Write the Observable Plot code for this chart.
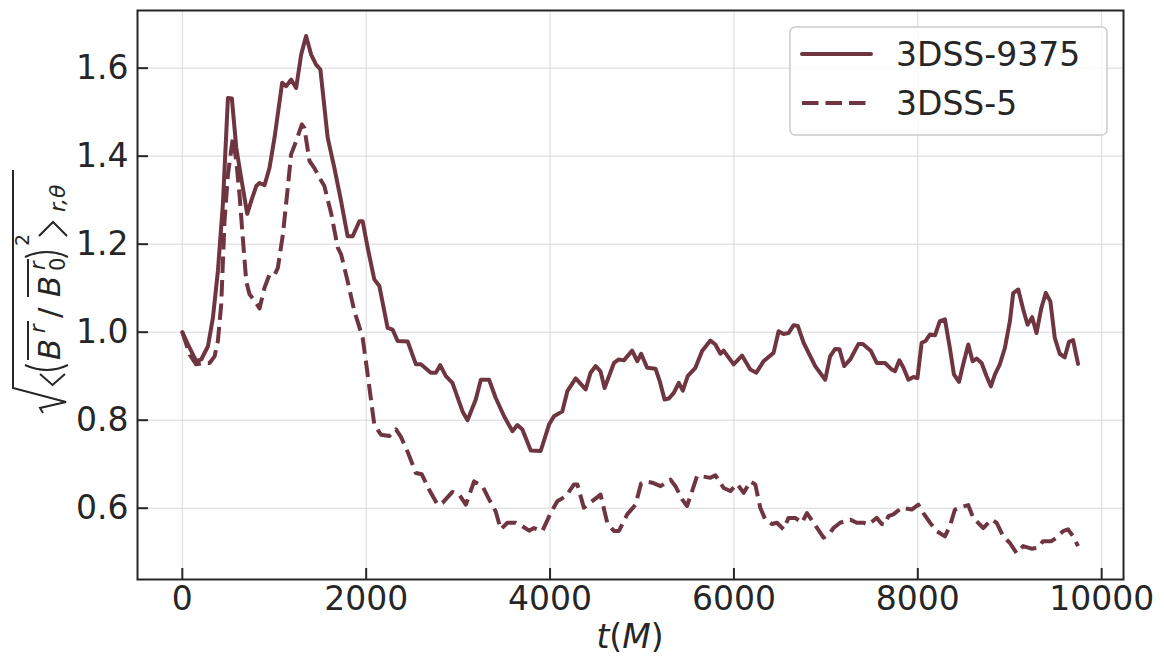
<!DOCTYPE html>
<html><head><meta charset="utf-8">
<script src="https://cdn.jsdelivr.net/npm/d3@7"></script>
<script src="https://cdn.jsdelivr.net/npm/@observablehq/plot@0.6"></script>
<style>body{margin:0;background:#fff;}</style>
</head><body><div id="chart"></div>
<script>
const seriesNames = ["3DSS-9375", "3DSS-5"];
const solidT = [0,62,151,206,279,333,387,441,496,539,587,640,706,749,804,840,894,948,1003,1086,1129,1183,1238,1293,1346,1401,1455,1502,1581,1654,1727,1798,1853,1926,1962,2016,2088,2143,2233,2287,2342,2451,2541,2595,2703,2758,2805,2867,2938,3048,3102,3192,3247,3337,3408,3500,3591,3645,3699,3790,3898,3989,4043,4133,4188,4279,4387,4441,4496,4549,4593,4695,4748,4803,4893,4948,4991,5056,5147,5193,5245,5291,5346,5400,5444,5497,5581,5654,5744,5798,5853,5888,5997,6088,6178,6244,6322,6431,6486,6540,6594,6649,6696,6758,6884,6993,7046,7101,7148,7199,7265,7354,7402,7491,7553,7644,7717,7752,7799,7843,7898,7952,7996,8042,8085,8133,8187,8240,8295,8349,8393,8448,8494,8549,8596,8640,8694,8748,8795,8839,8892,8947,9002,9038,9093,9146,9194,9244,9291,9344,9392,9442,9490,9544,9598,9645,9689,9743];
const solidV = [1.0,0.972,0.934,0.938,0.968,1.033,1.139,1.29,1.532,1.531,1.419,1.351,1.269,1.298,1.332,1.339,1.334,1.373,1.442,1.567,1.559,1.574,1.555,1.631,1.673,1.631,1.608,1.597,1.442,1.373,1.298,1.218,1.218,1.252,1.252,1.192,1.12,1.105,1.01,1.006,0.98,0.979,0.927,0.927,0.908,0.908,0.925,0.9,0.885,0.82,0.80,0.847,0.892,0.892,0.851,0.809,0.775,0.789,0.779,0.731,0.730,0.790,0.809,0.82,0.866,0.895,0.870,0.908,0.923,0.911,0.873,0.930,0.938,0.936,0.958,0.934,0.951,0.919,0.917,0.889,0.847,0.849,0.862,0.885,0.867,0.9,0.919,0.957,0.981,0.972,0.951,0.958,0.927,0.947,0.915,0.908,0.934,0.953,1.002,0.996,0.998,1.016,1.014,0.976,0.923,0.892,0.945,0.962,0.961,0.923,0.938,0.973,0.973,0.957,0.930,0.930,0.915,0.911,0.936,0.920,0.892,0.898,0.896,0.976,0.98,0.995,0.993,1.025,1.029,0.964,0.904,0.887,0.927,0.972,0.934,0.940,0.930,0.9,0.877,0.904,0.927,0.964,1.025,1.089,1.097,1.052,1.017,1.034,0.998,1.055,1.089,1.070,0.987,0.951,0.943,0.978,0.982,0.928];
const dashT = [0,80,151,242,297,351,387,423,459,496,550,587,622,658,695,731,793,840,894,948,1003,1039,1094,1147,1183,1238,1300,1328,1383,1437,1491,1545,1618,1691,1727,1798,1871,1962,2016,2088,2161,2251,2324,2378,2451,2540,2605,2685,2776,2830,2938,3011,3084,3174,3265,3337,3408,3464,3536,3626,3699,3772,3825,3916,4007,4079,4170,4261,4297,4368,4459,4549,4622,4695,4748,4839,4930,4990,5040,5111,5202,5310,5364,5437,5490,5545,5599,5636,5744,5798,5888,5961,6034,6106,6178,6232,6287,6341,6414,6468,6540,6594,6667,6739,6794,6866,6975,7046,7083,7155,7265,7336,7409,7463,7553,7608,7644,7680,7734,7825,7934,8006,8060,8133,8205,8295,8349,8404,8476,8549,8603,8712,8802,8857,8929,9002,9074,9146,9237,9309,9362,9453,9508,9580,9634,9689,9743];
const dashV = [1.0,0.949,0.927,0.930,0.930,0.945,0.98,1.063,1.252,1.358,1.442,1.389,1.313,1.214,1.116,1.086,1.070,1.054,1.101,1.131,1.130,1.146,1.222,1.328,1.404,1.434,1.472,1.464,1.389,1.373,1.351,1.332,1.271,1.192,1.177,1.116,1.048,0.987,0.904,0.790,0.767,0.764,0.779,0.762,0.728,0.680,0.677,0.642,0.608,0.612,0.637,0.631,0.608,0.661,0.65,0.620,0.593,0.552,0.567,0.567,0.559,0.549,0.555,0.548,0.589,0.616,0.627,0.654,0.654,0.601,0.616,0.631,0.567,0.548,0.548,0.586,0.608,0.656,0.661,0.658,0.65,0.665,0.65,0.620,0.605,0.639,0.673,0.673,0.669,0.675,0.646,0.639,0.655,0.635,0.661,0.654,0.601,0.574,0.564,0.567,0.552,0.578,0.578,0.567,0.589,0.567,0.533,0.544,0.555,0.567,0.574,0.567,0.567,0.563,0.578,0.564,0.563,0.582,0.586,0.601,0.597,0.608,0.589,0.567,0.548,0.536,0.559,0.597,0.603,0.607,0.578,0.555,0.574,0.567,0.536,0.521,0.498,0.514,0.508,0.51,0.525,0.525,0.533,0.548,0.552,0.536,0.514];
const xTicks = [0, 2000, 4000, 6000, 8000, 10000];
const yTicks = [0.6, 0.8, 1.0, 1.2, 1.4, 1.6];

const lineColor = "#6f3541";
const ink = "#262626";
const gridColor = "#d9d9d9";
const font = "DejaVu Sans";

const solid = solidT.map((t, i) => ({t, v: solidV[i], s: seriesNames[0]}));
const dashed = dashT.map((t, i) => ({t, v: dashV[i], s: seriesNames[1]}));

const W = 1164, H = 666, mL = 137, mR = 41, mT = 10, mB = 87;
const pW = W - mL - mR, pH = H - mT - mB;

const svg = Plot.plot({
  width: W, height: H,
  marginLeft: mL, marginRight: mR, marginTop: mT, marginBottom: mB,
  style: {fontFamily: font, fontSize: "33px", color: ink, background: "#fff", overflow: "visible"},
  x: {domain: [-487.5, 10237.5]},
  y: {domain: [0.438, 1.731]},
  marks: [
    Plot.gridX(xTicks, {stroke: gridColor, strokeOpacity: 1, strokeWidth: 1}),
    Plot.gridY(yTicks, {stroke: gridColor, strokeOpacity: 1, strokeWidth: 1}),
    Plot.line(solid, {x: "t", y: "v", stroke: lineColor, strokeWidth: 4, strokeLinejoin: "round", strokeLinecap: "round"}),
    Plot.line(dashed, {x: "t", y: "v", stroke: lineColor, strokeWidth: 4, strokeDasharray: "16.5,7", strokeLinejoin: "round", strokeLinecap: "butt"}),
    Plot.tickX(xTicks, {x: d => d, stroke: ink, strokeWidth: 2, insetTop: pH - 11}),
    Plot.tickY(yTicks, {y: d => d, stroke: ink, strokeWidth: 2, insetRight: pW - 11}),
    Plot.axisX(xTicks, {tickSize: 0, tickPadding: 7, fontSize: 33, label: null, fill: ink, tickFormat: d => String(d)}),
    Plot.axisY(yTicks, {tickSize: 0, tickPadding: 9, fontSize: 33, label: null, fill: ink, tickFormat: d => d.toFixed(1)}),
    Plot.frame({stroke: ink, strokeWidth: 2})
  ]
});
document.getElementById("chart").appendChild(svg);

const s = d3.select(svg);

// x label
const xl = s.append("text").attr("x", 630).attr("y", 648).attr("text-anchor", "middle")
  .attr("font-family", font).attr("font-size", 33).attr("fill", ink);
xl.append("tspan").attr("font-style", "italic").text("t");
xl.append("tspan").text("(");
xl.append("tspan").attr("font-style", "italic").text("M");
xl.append("tspan").text(")");

// y label (rotated math expression)
const yl = s.append("g").attr("transform", "translate(60,413) rotate(-90)")
  .attr("fill", ink).attr("font-family", font).attr("text-anchor", "start");
const strokeP = d => yl.append("path").attr("d", d).attr("fill", "none").attr("stroke", ink).attr("stroke-width", 2).attr("stroke-linejoin", "miter");
strokeP("M0,-17 L5,-20 L11,6 L25,-47 L243,-47");
strokeP("M39,-20 L28,-7.5 L39,5");
strokeP("M48,-35 Q38,-13 48,8");
const t = (x, y, str, size, italic) => yl.append("text").attr("x", x).attr("y", y)
  .attr("font-size", size).attr("font-style", italic ? "italic" : "normal").attr("text-anchor", "start").text(str);
t(53, 0, "B", 31, true);
t(80, -15, "r", 21, true);
strokeP("M53,-32 L92,-32");
t(95, 0, "/", 31, false);
t(116, 0, "B", 31, true);
t(143, -15, "r", 21, true);
t(142, 5, "0", 21, false);
strokeP("M116,-32 L154,-32");
strokeP("M156,-35 Q166,-13 156,8");
t(167, -31, "2", 19, false);
strokeP("M177,-21 L191,-7 L177,7");
t(201, 5, "r,θ", 22, true);

// legend
const lg = s.append("g").attr("font-family", font).attr("text-anchor", "start");
lg.append("rect").attr("x", 790).attr("y", 27).attr("width", 317).attr("height", 108).attr("rx", 5)
  .attr("fill", "#fff").attr("fill-opacity", 0.8).attr("stroke", "#cccccc").attr("stroke-width", 1.5);
lg.append("line").attr("x1", 802).attr("x2", 871).attr("y1", 54).attr("y2", 54)
  .attr("stroke", lineColor).attr("stroke-width", 4).attr("stroke-linecap", "round");
lg.append("line").attr("x1", 802).attr("x2", 871).attr("y1", 103).attr("y2", 103)
  .attr("stroke", lineColor).attr("stroke-width", 4).attr("stroke-dasharray", "16.5,7");
lg.append("text").attr("x", 896).attr("y", 66).attr("font-size", 33).attr("fill", ink).attr("text-anchor", "start").text(seriesNames[0]);
lg.append("text").attr("x", 896).attr("y", 115).attr("font-size", 33).attr("fill", ink).attr("text-anchor", "start").text(seriesNames[1]);
</script>
</body></html>
